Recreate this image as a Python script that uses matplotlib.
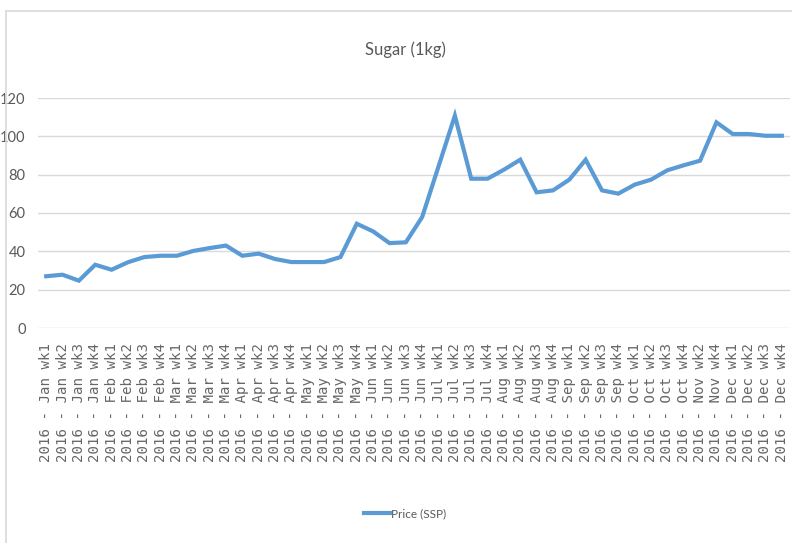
import numpy as np
import matplotlib.pyplot as plt
from matplotlib.lines import Line2D

## data
weeks = ['Jan wk1', 'Jan wk2', 'Jan wk3', 'Jan wk4',
         'Feb wk1', 'Feb wk2', 'Feb wk3', 'Feb wk4',
         'Mar wk1', 'Mar wk2', 'Mar wk3', 'Mar wk4',
         'Apr wk1', 'Apr wk2', 'Apr wk3', 'Apr wk4',
         'May wk1', 'May wk2', 'May wk3', 'May wk4',
         'Jun wk1', 'Jun wk2', 'Jun wk3', 'Jun wk4',
         'Jul wk1', 'Jul wk2', 'Jul wk3', 'Jul wk4',
         'Aug wk1', 'Aug wk2', 'Aug wk3', 'Aug wk4',
         'Sep wk1', 'Sep wk2', 'Sep wk3', 'Sep wk4',
         'Oct wk1', 'Oct wk2', 'Oct wk3', 'Oct wk4',
         'Nov wk2', 'Nov wk4',
         'Dec wk1', 'Dec wk2', 'Dec wk3', 'Dec wk4']
labels = ['2016 - ' + w for w in weeks]

price = [27, 27.8, 24.7, 33, 30.4, 34.3, 37, 37.7, 37.7, 40.2, 41.7, 43,
         37.7, 38.8, 36, 34.4, 34.4, 34.4, 37, 54.4, 50.4, 44.3, 44.7, 57.9,
         84.3, 110.8, 77.9, 77.9, 82.6, 87.8, 70.8, 71.8, 77.4, 87.8, 71.8, 70.1,
         74.8, 77.4, 82.3, 84.9, 87.3, 107.3, 101.2, 101.2, 100.3, 100.3]

narrow = ['Lato', 'DejaVu Sans']
grey = '#595959'

fig = plt.figure(figsize=(7.92, 5.43), dpi=100)
ax = fig.add_axes([38/792, 1 - 328/543, 752/792, 230/543])

x = np.arange(len(price))
ax.plot(x, price, color='#5B9BD5', lw=3, solid_joinstyle='miter', label='Price (SSP)')

ax.set_xlim(-0.5, len(price) - 0.5)
ax.set_ylim(0, 120)
ax.set_yticks(np.arange(0, 121, 20))
ax.yaxis.grid(True, color='#D9D9D9', lw=1)
ax.set_axisbelow(True)
for s in ax.spines.values():
    s.set_visible(False)
ax.tick_params(length=0)
ax.tick_params(axis='y', pad=9)
ax.tick_params(axis='x', pad=11)

ax.set_xticks(x)
ax.set_xticklabels(labels, rotation=90, fontsize=10.2, color='#666666', family='DejaVu Sans Mono')
for t in ax.get_yticklabels():
    t.set_family(narrow)
    t.set_fontsize(10.5)
    t.set_color(grey)

fig.text(405/792, 1 - 50/543, 'Sugar (1kg)', ha='center', va='center',
         fontsize=12, color=grey, family=narrow)

leg = fig.legend(loc='center', bbox_to_anchor=(405/792, 1 - 514/543), frameon=False,
                 handlelength=2.2, handletextpad=0.1, prop={'family': narrow, 'size': 8.5})
for t in leg.get_texts():
    t.set_color(grey)

# light border of the chart area
fig.add_artist(Line2D([6/792, 1], [1 - 11/543, 1 - 11/543], color='#D9D9D9', lw=1.2))
fig.add_artist(Line2D([6/792, 6/792], [0, 1 - 11/543], color='#D9D9D9', lw=1.2))

fig.savefig('out.png', dpi=100)
